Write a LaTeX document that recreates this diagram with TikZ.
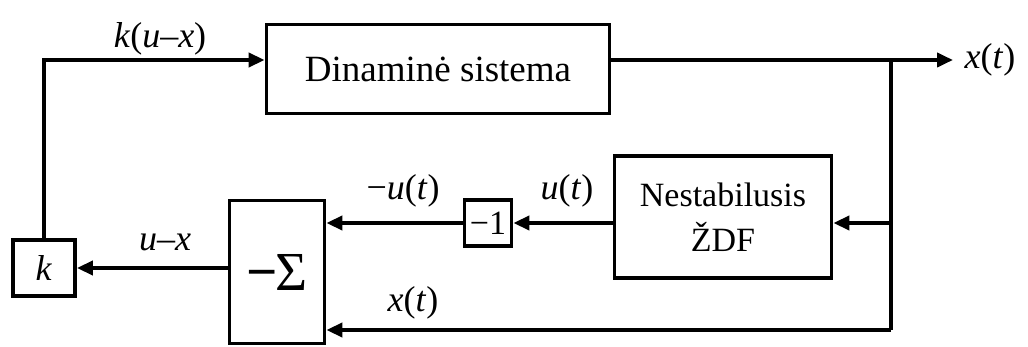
\documentclass[tikz,border=0pt]{standalone}
\usepackage{fontspec}
\setmainfont{Liberation Serif}
\usetikzlibrary{arrows.meta}
\begin{document}
\begin{tikzpicture}[x=1pt,y=-1pt,
  blockbox/.style={draw,line width=3.8pt,inner sep=0pt,align=center},
  wire/.style={line width=3.8pt},
  sig/.style={wire,-{Triangle[length=16pt,width=14pt]}},
  lbl/.style={font=\fontsize{36}{40}\selectfont,inner sep=0pt}]
\useasboundingbox (0,0) rectangle (1028,347);

% blocks
\node[blockbox,minimum width=343pt,minimum height=89pt,
      font=\fontsize{37}{44}\selectfont] (dyn) at (438,69) {Dinaminė sistema};
\node[blockbox,minimum width=217pt,minimum height=122pt,
      font=\fontsize{34}{45}\selectfont] (nest) at (723,217) {Nestabilusis\\ŽDF};
\node[blockbox,minimum width=47pt,minimum height=46pt,
      font=\fontsize{34}{40}\selectfont] (neg) at (488,223) {−1};
\node[blockbox,minimum width=95pt,minimum height=143pt,
      font=\fontsize{55}{60}\selectfont] (sum) at (277,272)
      {\raisebox{-3pt}{{\bfseries −}\kern-2pt Σ}};
\node[blockbox,minimum width=62pt,minimum height=56pt,
      font=\fontsize{36}{40}\selectfont] (k) at (44,268) {\textit{k}};

% branch points
\coordinate (tl) at (43,60);
\coordinate (out) at (953,60);
\coordinate (jr) at (891,60);
\coordinate (jm) at (891,223);
\coordinate (jb) at (891,330);

% connectors
\draw[sig] (k.north) |- (dyn.west |- tl);
\draw[sig] (dyn.east |- out) -- (out);
\draw[wire] (jr) -- (jb);
\draw[sig] (jm) -- (nest.east |- jm);
\draw[sig] (nest.west |- jm) -- (neg.east);
\draw[sig] (neg.west) -- (sum.east |- neg);
\draw[sig] (jb) -- (sum.east |- jb);
\draw[sig] (sum.west |- k) -- (k.east);

% signal labels
\node[lbl] (lku) at (160,39) {\textit{k}(\textit{u}–\textit{x})};
\node[lbl] (lx) at (990,60) {\textit{x}(\textit{t})};
\node[lbl] (lu) at (567,191) {\textit{u}(\textit{t})};
\node[lbl] (lnu) at (403,191) {−\textit{u}(\textit{t})};
\node[lbl] (lux) at (165,242) {\textit{u}–\textit{x}};
\node[lbl] (lxb) at (413,303) {\textit{x}(\textit{t})};
\end{tikzpicture}
\end{document}
